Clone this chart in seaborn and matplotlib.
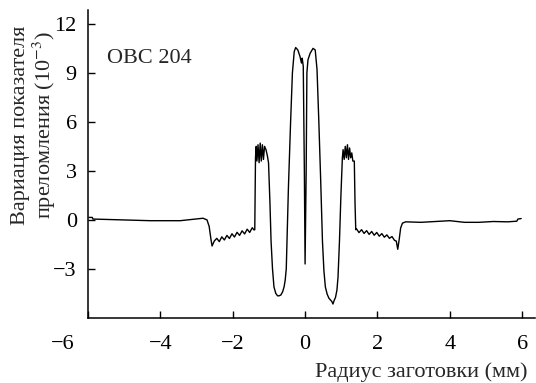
import numpy as np
import pandas as pd
import matplotlib
matplotlib.use("Agg")
import matplotlib.pyplot as plt
import matplotlib.transforms as mtransforms
import seaborn as sns

# radius (mm) and index variation (1e-3)
radius = [-5.97, -5.88, -5.86, -5.11, -4.28, -3.45, -3.04, -2.82, -2.71, -2.65,
          -2.60, -2.57, -2.51, -2.44, -2.37, -2.30, -2.23, -2.16, -2.09, -2.02,
          -1.95, -1.88, -1.81, -1.74, -1.67, -1.60, -1.53, -1.46, -1.41, -1.39,
          -1.37, -1.35, -1.33, -1.30, -1.27, -1.24, -1.21, -1.18, -1.15, -1.12,
          -1.08, -1.04, -1.01, -0.97, -0.94, -0.90, -0.86, -0.81, -0.76, -0.72,
          -0.67, -0.62, -0.58, -0.55, -0.52, -0.50, -0.46, -0.40, -0.35, -0.30,
          -0.26, -0.20, -0.14, -0.10, -0.08, -0.05, -0.02, 0.00, 0.03, 0.05,
          0.08, 0.14, 0.22, 0.28, 0.33, 0.38, 0.43, 0.48, 0.52, 0.56,
          0.61, 0.66, 0.70, 0.74, 0.77, 0.80, 0.84, 0.88, 0.91, 0.95,
          0.99, 1.03, 1.05, 1.08, 1.11, 1.14, 1.17, 1.20, 1.23, 1.26,
          1.29, 1.32, 1.36, 1.38, 1.40, 1.42, 1.49, 1.56, 1.63, 1.70,
          1.77, 1.84, 1.91, 1.98, 2.05, 2.12, 2.19, 2.26, 2.33, 2.40,
          2.47, 2.52, 2.56, 2.60, 2.64, 2.69, 2.78, 3.20, 3.60, 4.00,
          4.40, 4.80, 5.20, 5.60, 5.85, 5.88, 5.97]
delta_n = [0.15, 0.15, 0.05, 0.00, -0.05, -0.05, 0.05, 0.10, 0.00, -0.40,
           -1.20, -1.60, -1.30, -1.13, -1.33, -1.04, -1.23, -0.95, -1.14, -0.85,
           -1.05, -0.76, -0.95, -0.67, -0.86, -0.57, -0.77, -0.48, -0.62, -0.60,
           3.80, 4.50, 3.60, 4.60, 3.50, 4.70, 3.60, 4.60, 3.70, 4.50,
           4.30, 3.90, 3.50, 1.00, -1.30, -3.00, -4.10, -4.50, -4.65, -4.65,
           -4.60, -4.40, -4.10, -3.70, -3.00, -1.30, 2.00, 6.00, 9.00, 10.30,
           10.55, 10.40, 10.00, 9.60, 9.90, 9.40, 3.00, -2.70, 3.00, 9.00,
           9.80, 10.20, 10.50, 10.40, 9.20, 6.00, 2.50, -1.30, -3.10, -4.10,
           -4.55, -4.80, -4.90, -5.00, -5.15, -4.95, -4.75, -4.30, -3.50, -1.30,
           1.50, 3.80, 4.30, 3.70, 4.50, 3.80, 4.60, 3.70, 4.40, 3.80,
           4.10, 3.60, 3.60, 1.00, -0.60, -0.55, -0.78, -0.60, -0.83, -0.66,
           -0.89, -0.71, -0.94, -0.77, -1.00, -0.84, -1.06, -0.92, -1.13, -1.02,
           -1.25, -1.30, -1.80, -1.20, -0.50, -0.20, -0.12, -0.15, -0.10, -0.05,
           -0.15, -0.15, -0.10, -0.12, -0.08, 0.05, 0.08]

x_ticks = [-6, -4, -2, 0, 2, 4, 6]
y_ticks = [-3, 0, 3, 6, 9, 12]

df = pd.DataFrame({"r": radius, "dn": delta_n})

sns.set_theme(style="ticks")
plt.rcParams["font.family"] = ["Liberation Serif", "DejaVu Serif"]
plt.rcParams["mathtext.fontset"] = "stix"

fig = plt.figure(figsize=(5.36, 3.83), dpi=100)
ax = fig.add_axes([0.164, 0.170, 0.834, 0.804])

sns.lineplot(data=df, x="r", y="dn", ax=ax, sort=False, estimator=None,
             color="black", linewidth=1.0)

ax.set_xlim(-6, 6.35)
ax.set_ylim(-6, 12.85)
ax.set_xticks(x_ticks)
ax.set_yticks(y_ticks)
ax.set_xticklabels([f"{t}".replace("-", "\u2212") for t in x_ticks])
ax.set_yticklabels([f"{t}".replace("-", "\u2212") for t in y_ticks])
ax.tick_params(direction="in", length=5, width=1.0, labelsize=16,
               colors="black")
ax.tick_params(axis="x", pad=12)
ax.tick_params(axis="y", pad=8)
for s in ["left", "bottom"]:
    ax.spines[s].set_linewidth(1.1)
    ax.spines[s].set_color("black")
sns.despine(ax=ax)

# the -6 label sits left of the corner in the reference
lbl = ax.get_xticklabels()[0]
lbl.set_transform(lbl.get_transform() +
                  mtransforms.ScaledTranslation(-25 / 100, 0, fig.dpi_scale_trans))

ax.set_xlabel("Радиус заготовки (мм)", fontsize=16, loc="right")
ax.xaxis.set_label_coords(0.984, -0.145)
ax.set_ylabel("Вариация показателя\nпреломления (10$^{-3}$)", fontsize=16,
              linespacing=1.0)
ax.yaxis.set_label_coords(-0.068, 0.627)

ax.text(-5.47, 9.9, "ОВС 204", fontsize=16, ha="left", va="center")

fig.savefig("out.png", dpi=100)
